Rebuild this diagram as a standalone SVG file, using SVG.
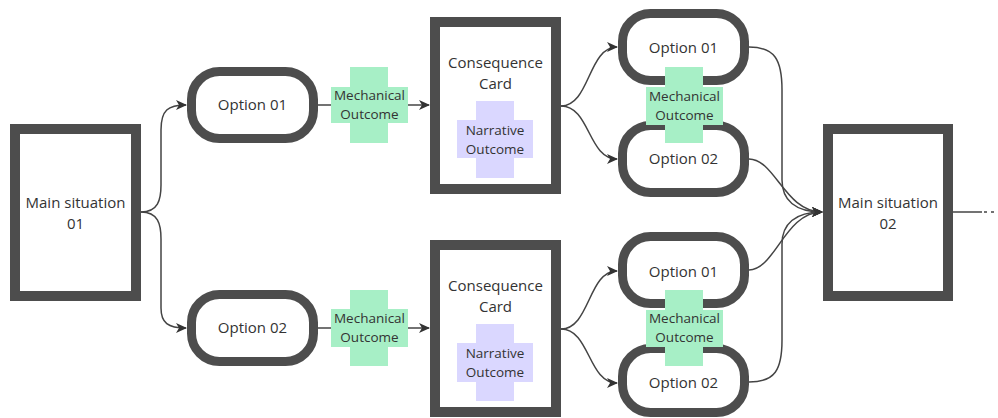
<svg xmlns="http://www.w3.org/2000/svg" width="998" height="418" viewBox="0 0 998 418">
<style>
.box{fill:#fff;stroke:#4d4d4d;stroke-width:10}
.opt{fill:#fff;stroke:#4d4d4d;stroke-width:9}
.mech{fill:#a7efc6}
.narr{fill:#dad7ff}
.t{font-family:"Open Sans","Noto Sans",sans-serif;font-size:15px;fill:#333;text-anchor:middle}
.s{font-family:"Open Sans","Noto Sans",sans-serif;font-size:13.5px;fill:#333;text-anchor:middle}
.c{fill:none;stroke:#444;stroke-width:1.5}
</style>
<defs>
<marker id="ah" markerWidth="12" markerHeight="12" refX="10" refY="6" orient="auto" markerUnits="userSpaceOnUse">
<path d="M0,1 L11,6 L0,11 L3,6 z" fill="#333"/>
</marker>
</defs>
<rect width="998" height="418" fill="#fff"/>
<g id="connectors">
<path class="c" d="M141,212 C158,212 161,200 161,185 L161,130 C161,110 168,105 186,105" marker-end="url(#ah)"/>
<path class="c" d="M141,212 C158,212 161,224 161,239 L161,308 C161,323 168,328 186,328" marker-end="url(#ah)"/>
<path class="c" d="M318,105 L429,105" marker-end="url(#ah)"/>
<path class="c" d="M318,328 L429,328" marker-end="url(#ah)"/>
<path class="c" d="M561,106 C590,106 588,47 617,47" marker-end="url(#ah)"/>
<path class="c" d="M561,106 C590,106 588,159 617,159" marker-end="url(#ah)"/>
<path class="c" d="M561,329 C590,329 588,271 617,271" marker-end="url(#ah)"/>
<path class="c" d="M561,329 C590,329 588,383 617,383" marker-end="url(#ah)"/>
<path class="c" d="M749,47 C775,47 782,60 782,90 L782,180 C782,200 795,212 822,212" marker-end="url(#ah)"/>
<path class="c" d="M749,159 C775,159 785,212 822,212" marker-end="url(#ah)"/>
<path class="c" d="M749,270 C775,270 785,212 822,212" marker-end="url(#ah)"/>
<path class="c" d="M749,382 C775,382 782,370 782,340 L782,244 C782,224 795,212 822,212" marker-end="url(#ah)"/>
<path class="c" d="M953,212 L982,212"/>
<path class="c" d="M984,212 L995,212" stroke-dasharray="3,4"/>
</g>
<g id="main01"><rect class="box" x="15" y="129" width="121" height="167"/><text class="t" x="75.5" y="208">Main situation</text><text class="t" x="75.5" y="229">01</text></g>
<g id="main02"><rect class="box" x="828" y="129" width="120" height="167"/><text class="t" x="888" y="208">Main situation</text><text class="t" x="888" y="229">02</text></g>
<g id="optA1"><rect class="opt" x="191.5" y="71.5" width="122" height="67" rx="28"/><text class="t" x="252.5" y="110">Option 01</text></g>
<g id="optA2"><rect class="opt" x="191.5" y="294.5" width="122" height="67" rx="28"/><text class="t" x="252.5" y="333">Option 02</text></g>
<g id="mechA1"><path class="mech" d="M350,67 H388 V87 H408 V123 H388 V143 H350 V123 H331 V87 H350 z"/><text class="s" x="369.5" y="100">Mechanical</text><text class="s" x="369.5" y="119">Outcome</text></g>
<g id="mechA2"><path class="mech" d="M350,290 H388 V309 H408 V347 H388 V366 H350 V347 H331 V309 H350 z"/><text class="s" x="369.5" y="323">Mechanical</text><text class="s" x="369.5" y="342">Outcome</text></g>
<g id="cons1"><rect class="box" x="435" y="22" width="121" height="167"/><text class="t" x="495.5" y="68">Consequence</text><text class="t" x="495.5" y="89">Card</text></g>
<g id="narr1"><path class="narr" d="M476,101 H514 V120 H533 V158 H514 V178 H476 V158 H457 V120 H476 z"/><text class="s" x="495" y="135">Narrative</text><text class="s" x="495" y="154">Outcome</text></g>
<g id="cons2"><rect class="box" x="435" y="245" width="121" height="167"/><text class="t" x="495.5" y="291">Consequence</text><text class="t" x="495.5" y="312">Card</text></g>
<g id="narr2"><path class="narr" d="M476,324 H514 V343 H533 V382 H514 V401 H476 V382 H457 V343 H476 z"/><text class="s" x="495" y="358">Narrative</text><text class="s" x="495" y="377">Outcome</text></g>
<g id="optB1"><rect class="opt" x="622.5" y="13.5" width="122" height="67" rx="28"/><text class="t" x="683.5" y="53">Option 01</text></g>
<g id="optB2"><rect class="opt" x="622.5" y="125.5" width="122" height="67" rx="28"/><text class="t" x="683.5" y="164">Option 02</text></g>
<g id="mechB1"><path class="mech" d="M665,67 H703 V87 H723 V125 H703 V143 H665 V125 H646 V87 H665 z"/><text class="s" x="684.5" y="101">Mechanical</text><text class="s" x="684.5" y="120">Outcome</text></g>
<g id="optC1"><rect class="opt" x="622.5" y="236.5" width="122" height="67" rx="28"/><text class="t" x="683.5" y="277">Option 01</text></g>
<g id="optC2"><rect class="opt" x="622.5" y="348.5" width="122" height="64" rx="28"/><text class="t" x="683.5" y="388">Option 02</text></g>
<g id="mechC1"><path class="mech" d="M665,290 H703 V310 H723 V347 H703 V366 H665 V347 H646 V310 H665 z"/><text class="s" x="684.5" y="323">Mechanical</text><text class="s" x="684.5" y="342">Outcome</text></g>
</svg>
